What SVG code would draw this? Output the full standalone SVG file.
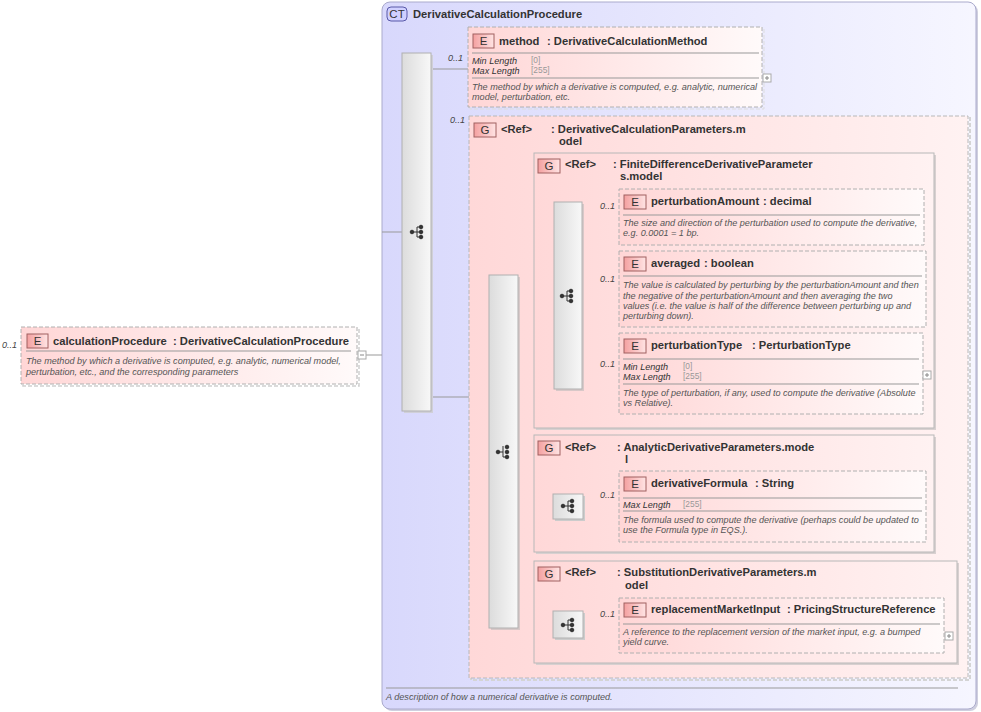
<svg xmlns="http://www.w3.org/2000/svg" width="981" height="712" viewBox="0 0 981 712">
<defs>
<linearGradient id="ct" x1="0" y1="0" x2="1" y2="0"><stop offset="0" stop-color="#d8d8fc"/><stop offset="1" stop-color="#f6f6ff"/></linearGradient>
<linearGradient id="eg" x1="0" y1="0" x2="1" y2="0"><stop offset="0" stop-color="#ffd6d6"/><stop offset="1" stop-color="#fffafa"/></linearGradient>
<linearGradient id="gg" x1="0" y1="0" x2="1" y2="0"><stop offset="0" stop-color="#ffd8d8"/><stop offset="1" stop-color="#fff2f2"/></linearGradient>
<linearGradient id="bar" x1="0" y1="0" x2="1" y2="0"><stop offset="0" stop-color="#dcdcdc"/><stop offset="1" stop-color="#f8f8f8"/></linearGradient>
<linearGradient id="badge" x1="0" y1="0" x2="1" y2="0"><stop offset="0" stop-color="#f4a0a0"/><stop offset="1" stop-color="#ffe4e4"/></linearGradient>
<g id="seq">
<line x1="-6" y1="0" x2="3" y2="0"/><line x1="-1" y1="-5" x2="-1" y2="5"/><line x1="-1" y1="-5" x2="3" y2="-5"/><line x1="-1" y1="5" x2="3" y2="5"/>
<circle cx="-6" cy="0" r="1.8"/><circle cx="3" cy="-5" r="1.8"/><circle cx="3" cy="0" r="1.8"/><circle cx="3" cy="5" r="1.8"/>
</g>
<g id="cho">
<line x1="-6" y1="0" x2="-1" y2="0"/><line x1="-1" y1="-6" x2="-1" y2="5"/><line x1="-1" y1="5" x2="3" y2="5"/>
<circle cx="-6" cy="0" r="1.8"/><circle cx="3" cy="-5" r="1.8"/><circle cx="3" cy="0" r="1.8"/><circle cx="3" cy="5" r="1.8"/>
</g>
</defs>
<style>
.nm{font-family:"Liberation Sans",Arial,sans-serif;font-weight:bold;font-size:11.2px;fill:#333}
.ds{font-family:"Liberation Sans",Arial,sans-serif;font-style:italic;font-size:9.1px;fill:#555}
.fc{font-family:"Liberation Sans",Arial,sans-serif;font-style:italic;font-size:9.1px;fill:#333}
.fv{font-family:"Liberation Sans",Arial,sans-serif;font-size:8.4px;fill:#999}
.oc{font-family:"Liberation Sans",Arial,sans-serif;font-style:italic;font-size:9px;fill:#444}
.bt{font-family:"Liberation Sans",Arial,sans-serif;font-size:11.5px;fill:#333}
.el{fill:url(#eg);stroke:#b0b0b0;stroke-dasharray:4,2}
.sh{fill:none;stroke:#d0d0d0;stroke-width:1.5}
.gr{fill:url(#gg);stroke:#b8b8b8}
.sep{stroke:#999;stroke-width:1}
.bd{fill:url(#badge);stroke:#a06060}
.br{fill:url(#bar);stroke:#b0b0b0}
.ico{fill:#333;stroke:#333;stroke-width:1}
.cn{stroke:#999;stroke-width:1;fill:none}
.pm{fill:#fff;stroke:#aaa}
</style>
<rect width="981" height="712" fill="#fff"/>

<g id="ct-DerivativeCalculationProcedure">
<rect x="384" y="4" width="594" height="707" rx="8" fill="#cfcfdf"/>
<rect x="382" y="2" width="594" height="707" rx="8" fill="url(#ct)" stroke="#aaaacc"/>
<rect x="387" y="7" width="20" height="14" rx="4" fill="#d0d0ff" stroke="#5858a8"/>
<text x="397" y="18" text-anchor="middle" class="bt" fill="#333">CT</text>
<text x="413" y="18" class="nm">DerivativeCalculationProcedure</text>
<line x1="386" y1="688" x2="958" y2="688" class="sep"/>
<text x="386" y="700" class="ds">A description of how a numerical derivative is computed.</text>
</g>

<g id="connectors">
<line x1="366" y1="355" x2="382" y2="355" class="cn"/>
<line x1="382" y1="232" x2="402" y2="232" class="cn"/>
<line x1="431" y1="69" x2="468" y2="69" class="cn"/>
<line x1="431" y1="397" x2="469" y2="397" class="cn"/>
<line x1="469" y1="452" x2="489" y2="452" class="cn"/>
<line x1="518" y1="291" x2="534" y2="291" class="cn"/>
<line x1="518" y1="492" x2="534" y2="492" class="cn"/>
<line x1="518" y1="612" x2="534" y2="612" class="cn"/>
<line x1="534" y1="296" x2="554" y2="296" class="cn"/>
<line x1="582" y1="217" x2="619" y2="217" class="cn"/>
<line x1="582" y1="290" x2="619" y2="290" class="cn"/>
<line x1="582" y1="375" x2="619" y2="375" class="cn"/>
<line x1="534" y1="506" x2="553" y2="506" class="cn"/>
<line x1="583" y1="506" x2="619" y2="506" class="cn"/>
<line x1="534" y1="625" x2="553" y2="625" class="cn"/>
<line x1="583" y1="625" x2="619" y2="625" class="cn"/>
</g>

<g id="el-calculationProcedure">
<text x="2" y="348" class="oc">0..1</text>
<rect x="23" y="329" width="336" height="57" fill="#e4e4e4" class="sh" stroke-dasharray="4,2"/>
<rect x="21" y="327" width="336" height="57" class="el"/>
<rect x="27" y="334" width="21" height="14" class="bd"/>
<text x="37.5" y="345" text-anchor="middle" class="bt">E</text>
<text x="53" y="345" class="nm">calculationProcedure</text>
<text x="173" y="345" class="nm">: DerivativeCalculationProcedure</text>
<line x1="26" y1="351" x2="351" y2="351" class="sep"/>
<text x="26" y="364" class="ds">The method by which a derivative is computed, e.g. analytic, numerical model,</text>
<text x="26" y="375" class="ds">perturbation, etc., and the corresponding parameters</text>
<rect x="358" y="351" width="8" height="8" class="pm"/>
<line x1="360" y1="355" x2="364" y2="355" stroke="#888"/>
</g>

<g id="seq-main">
<rect x="404" y="55" width="29" height="358" fill="#d0d0d8"/>
<rect x="402" y="53" width="29" height="358" class="br"/>
<use href="#seq" x="418" y="232" class="ico"/>
</g>

<g id="el-method">
<text x="448" y="61" class="oc">0..1</text>
<rect x="470" y="29" width="294" height="80" fill="none" stroke="#ddd" stroke-dasharray="4,2"/>
<rect x="468" y="27" width="294" height="80" class="el"/>
<rect x="473" y="34" width="21" height="14" class="bd"/>
<text x="483.5" y="45" text-anchor="middle" class="bt">E</text>
<text x="499" y="45" class="nm">method</text>
<text x="547" y="45" class="nm">: DerivativeCalculationMethod</text>
<line x1="472" y1="53" x2="759" y2="53" class="sep"/>
<text x="472" y="64" class="fc">Min Length</text>
<text x="531" y="63" class="fv">[0]</text>
<text x="472" y="74" class="fc">Max Length</text>
<text x="531" y="73" class="fv">[255]</text>
<line x1="472" y1="78" x2="759" y2="78" class="sep"/>
<text x="472" y="90" class="ds">The method by which a derivative is computed, e.g. analytic, numerical</text>
<text x="472" y="100" class="ds">model, perturbation, etc.</text>
<rect x="763" y="74" width="8" height="8" class="pm"/>
<line x1="765" y1="78" x2="769" y2="78" stroke="#888"/><line x1="767" y1="76" x2="767" y2="80" stroke="#888"/>
</g>

<g id="grp-DerivativeCalculationParameters">
<text x="450" y="123" class="oc">0..1</text>
<rect x="471" y="118" width="499" height="562" fill="none" stroke="#d4d4d4" stroke-width="2" stroke-dasharray="4,2"/>
<rect x="469" y="116" width="499" height="562" fill="url(#gg)" stroke="#b8b8b8" stroke-dasharray="4,2"/>
<rect x="474" y="123" width="22" height="14" class="bd"/>
<text x="485" y="134" text-anchor="middle" class="bt">G</text>
<text x="501" y="133" class="nm">&lt;Ref&gt;</text>
<text x="551" y="133" class="nm">: DerivativeCalculationParameters.m</text>
<text x="559" y="145" class="nm">odel</text>
</g>

<g id="choice-main">
<rect x="491" y="277" width="29" height="353" fill="#d8c8c8"/>
<rect x="489" y="275" width="29" height="353" class="br"/>
<use href="#cho" x="504" y="452" class="ico"/>
</g>

<g id="grp-FiniteDifference">
<rect x="536" y="155" width="400" height="275" fill="#d8d0d0"/>
<rect x="534" y="153" width="400" height="275" class="gr"/>
<rect x="538" y="159" width="22" height="14" class="bd"/>
<text x="549" y="170" text-anchor="middle" class="bt">G</text>
<text x="565" y="168" class="nm">&lt;Ref&gt;</text>
<text x="613" y="168" class="nm">: FiniteDifferenceDerivativeParameter</text>
<text x="620" y="180" class="nm">s.model</text>
</g>

<g id="seq-finite">
<rect x="556" y="204" width="28" height="187" fill="#d8c8c8"/>
<rect x="554" y="202" width="28" height="187" class="br"/>
<use href="#seq" x="568" y="296" class="ico"/>
</g>

<g id="el-perturbationAmount">
<text x="600" y="209" class="oc">0..1</text>
<rect x="619" y="189" width="305" height="56" class="el"/>
<rect x="624" y="195" width="22" height="14" class="bd"/>
<text x="635" y="206" text-anchor="middle" class="bt">E</text>
<text x="651" y="205" class="nm">perturbationAmount</text>
<text x="763" y="205" class="nm">: decimal</text>
<line x1="623" y1="215" x2="920" y2="215" class="sep"/>
<text x="623" y="226" class="ds">The size and direction of the perturbation used to compute the derivative,</text>
<text x="623" y="236" class="ds">e.g. 0.0001 = 1 bp.</text>
</g>

<g id="el-averaged">
<text x="600" y="282" class="oc">0..1</text>
<rect x="619" y="251" width="307" height="76" class="el"/>
<rect x="624" y="257" width="22" height="14" class="bd"/>
<text x="635" y="268" text-anchor="middle" class="bt">E</text>
<text x="651" y="267" class="nm">averaged</text>
<text x="704" y="267" class="nm">: boolean</text>
<line x1="623" y1="276" x2="922" y2="276" class="sep"/>
<text x="623" y="288" class="ds">The value is calculated by perturbing by the perturbationAmount and then</text>
<text x="623" y="299" class="ds">the negative of the perturbationAmount and then averaging the two</text>
<text x="623" y="309" class="ds">values (i.e. the value is half of the difference between perturbing up and</text>
<text x="623" y="319" class="ds">perturbing down).</text>
</g>

<g id="el-perturbationType">
<text x="600" y="367" class="oc">0..1</text>
<rect x="619" y="333" width="304" height="81" class="el"/>
<rect x="624" y="339" width="22" height="14" class="bd"/>
<text x="635" y="350" text-anchor="middle" class="bt">E</text>
<text x="651" y="349" class="nm">perturbationType</text>
<text x="752" y="349" class="nm">: PerturbationType</text>
<line x1="623" y1="359" x2="919" y2="359" class="sep"/>
<text x="623" y="370" class="fc">Min Length</text>
<text x="683" y="369" class="fv">[0]</text>
<text x="623" y="380" class="fc">Max Length</text>
<text x="683" y="379" class="fv">[255]</text>
<line x1="623" y1="384" x2="919" y2="384" class="sep"/>
<text x="623" y="396" class="ds">The type of perturbation, if any, used to compute the derivative (Absolute</text>
<text x="623" y="406" class="ds">vs Relative).</text>
<rect x="923" y="371" width="8" height="8" class="pm"/>
<line x1="925" y1="375" x2="929" y2="375" stroke="#888"/><line x1="927" y1="373" x2="927" y2="377" stroke="#888"/>
</g>

<g id="grp-Analytic">
<rect x="536" y="437" width="400" height="117" fill="#d8d0d0"/>
<rect x="534" y="435" width="400" height="117" class="gr"/>
<rect x="538" y="441" width="22" height="14" class="bd"/>
<text x="549" y="452" text-anchor="middle" class="bt">G</text>
<text x="565" y="451" class="nm">&lt;Ref&gt;</text>
<text x="617" y="451" class="nm">: AnalyticDerivativeParameters.mode</text>
<text x="625" y="463" class="nm">l</text>
<rect x="555" y="496" width="30" height="25" fill="#ccc"/>
<rect x="553" y="494" width="30" height="25" class="br"/>
<use href="#seq" x="569" y="506" class="ico"/>
</g>

<g id="el-derivativeFormula">
<text x="600" y="498" class="oc">0..1</text>
<rect x="619" y="471" width="307" height="71" class="el"/>
<rect x="624" y="477" width="22" height="14" class="bd"/>
<text x="635" y="488" text-anchor="middle" class="bt">E</text>
<text x="651" y="487" class="nm">derivativeFormula</text>
<text x="755" y="487" class="nm">: String</text>
<line x1="623" y1="498" x2="922" y2="498" class="sep"/>
<text x="623" y="508" class="fc">Max Length</text>
<text x="683" y="507" class="fv">[255]</text>
<line x1="623" y1="511" x2="922" y2="511" class="sep"/>
<text x="623" y="523" class="ds">The formula used to compute the derivative (perhaps could be updated to</text>
<text x="623" y="533" class="ds">use the Formula type in EQS.).</text>
</g>

<g id="grp-Substitution">
<rect x="536" y="563" width="423" height="102" fill="#d8d0d0"/>
<rect x="534" y="561" width="423" height="102" class="gr"/>
<rect x="538" y="567" width="22" height="14" class="bd"/>
<text x="549" y="578" text-anchor="middle" class="bt">G</text>
<text x="565" y="576" class="nm">&lt;Ref&gt;</text>
<text x="617" y="576" class="nm">: SubstitutionDerivativeParameters.m</text>
<text x="625" y="589" class="nm">odel</text>
<rect x="555" y="613" width="30" height="27" fill="#ccc"/>
<rect x="553" y="611" width="30" height="27" class="br"/>
<use href="#seq" x="569" y="625" class="ico"/>
</g>

<g id="el-replacementMarketInput">
<text x="600" y="617" class="oc">0..1</text>
<rect x="619" y="598" width="325" height="55" class="el"/>
<rect x="624" y="603" width="22" height="14" class="bd"/>
<text x="635" y="614" text-anchor="middle" class="bt">E</text>
<text x="651" y="613" class="nm">replacementMarketInput</text>
<text x="787" y="613" class="nm">: PricingStructureReference</text>
<line x1="623" y1="624" x2="940" y2="624" class="sep"/>
<text x="623" y="635" class="ds">A reference to the replacement version of the market input, e.g. a bumped</text>
<text x="623" y="645" class="ds">yield curve.</text>
<rect x="945" y="632" width="8" height="8" class="pm"/>
<line x1="947" y1="636" x2="951" y2="636" stroke="#888"/><line x1="949" y1="634" x2="949" y2="638" stroke="#888"/>
</g>
</svg>
